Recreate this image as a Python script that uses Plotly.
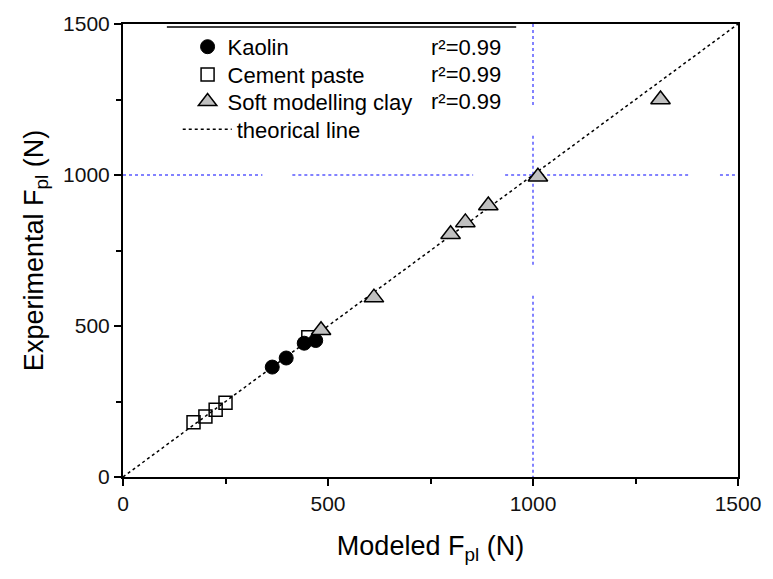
import plotly.graph_objects as go

# ---- data ----
kaolin_x = [364, 398, 442, 470]
kaolin_y = [364, 394, 443, 452]
cement_x = [172, 201, 226, 250, 452]
cement_y = [181, 200, 223, 246, 463]
clay_x = [483, 612, 799, 835, 891, 1012, 1311]
clay_y = [486, 594, 804, 843, 899, 994, 1250]
line_x = [0, 1500]
line_y = [0, 1500]
r2_labels = ["r²=0.99", "r²=0.99", "r²=0.99"]
ticks = [0, 500, 1000, 1500]
tick_text = ["0", "500", "1000", "1500"]

FONT = "Arial, Liberation Sans, sans-serif"

fig = go.Figure()
fig.add_trace(go.Scatter(x=line_x, y=line_y, mode="lines", name="theorical line",
                         legend="legend4",
                         line=dict(color="black", width=1.5, dash="dot")))
fig.add_trace(go.Scatter(x=kaolin_x, y=kaolin_y, mode="markers", name="Kaolin",
                         legend="legend",
                         marker=dict(symbol="circle", size=14, color="black",
                                     line=dict(color="black", width=1))))
fig.add_trace(go.Scatter(x=cement_x, y=cement_y, mode="markers", name="Cement paste",
                         legend="legend2",
                         marker=dict(symbol="square-open", size=13, color="black",
                                     line=dict(color="black", width=1.5))))
fig.add_trace(go.Scatter(x=clay_x, y=clay_y, mode="markers", name="Soft modelling clay",
                         legend="legend3",
                         marker=dict(symbol="triangle-up", size=17, color="#c0c0c0",
                                     line=dict(color="black", width=1.5))))

# blue dotted reference lines (x=1000, y=1000) with gaps
blue = "#5a5aff"
for x0, x1 in [(0, 340), (413, 854), (932, 1383), (1456, 1500)]:
    fig.add_shape(type="line", x0=x0, x1=x1, y0=1000, y1=1000, xref="x", yref="y",
                  line=dict(color=blue, width=1.5, dash="dot"), layer="below")
for y0, y1 in [(1500, 1230), (1130, 700), (600, 0)]:
    fig.add_shape(type="line", x0=1000, x1=1000, y0=y0, y1=y1, xref="x", yref="y",
                  line=dict(color=blue, width=1.5, dash="dot"), layer="below")

# legend top rule
fig.add_shape(type="line", x0=107, x1=959, y0=1490, y1=1490, xref="x", yref="y",
              line=dict(color="black", width=1.5))

# r² annotations
for i, t in enumerate(r2_labels):
    fig.add_annotation(x=0.497, y=0.949 - i * 0.0605, xref="paper", yref="paper",
                       text=t, showarrow=False, xanchor="left", yanchor="middle",
                       font=dict(family=FONT, size=22, color="black"))

axis_common = dict(
    range=[0, 1500], tickvals=ticks, ticktext=tick_text,
    showgrid=False, zeroline=False,
    showline=True, linecolor="black", linewidth=2, mirror=True,
    ticks="outside", ticklen=7, tickwidth=2, tickcolor="black",
    tickfont=dict(family=FONT, size=21, color="#111"),
    minor=dict(ticks="outside", ticklen=5, tickwidth=1.5, tickcolor="black",
               tickvals=[250, 750, 1250], showgrid=False),
)

leg_common = dict(xanchor="left", yanchor="middle", bgcolor="rgba(0,0,0,0)",
                  font=dict(family=FONT, size=22, color="black"))

fig.update_layout(
    width=773, height=579,
    margin=dict(l=123, r=32, t=22, b=102),
    plot_bgcolor="white", paper_bgcolor="white",
    font=dict(family=FONT, color="black"),
    xaxis=dict(title=dict(text="Modeled F<sub>pl</sub> (N)",
                          font=dict(family=FONT, size=27), standoff=22),
               **axis_common),
    yaxis=dict(title=dict(text="Experimental F<sub>pl</sub> (N)",
                          font=dict(family=FONT, size=27), standoff=12),
               **axis_common),
    legend=dict(x=0.105, y=0.9495, itemwidth=30, **leg_common),
    legend2=dict(x=0.105, y=0.888, itemwidth=30, **leg_common),
    legend3=dict(x=0.105, y=0.8286, itemwidth=30, **leg_common),
    legend4=dict(x=0.089, y=0.767, itemwidth=49, **leg_common),
    showlegend=True,
)

fig.write_html("out.html")
